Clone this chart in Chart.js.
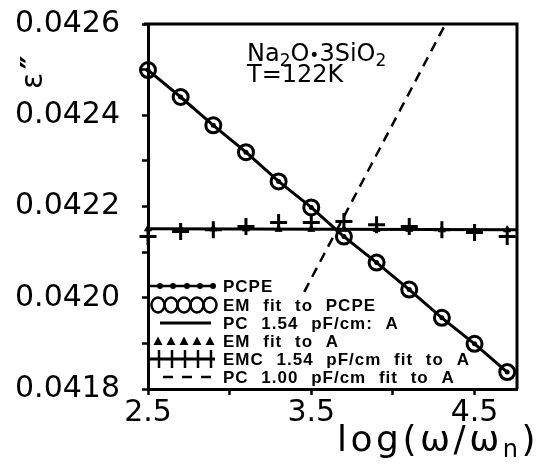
<!DOCTYPE html>
<html>
<head>
<meta charset="utf-8">
<script src="https://cdn.jsdelivr.net/npm/chart.js@4.4.0/dist/chart.umd.min.js"></script>
<style>
  html, body { margin: 0; padding: 0; background: #fff; }
  #wrap { width: 539px; height: 466px; position: relative; }
</style>
</head>
<body>
<div id="wrap"><canvas id="c" width="539" height="466"></canvas></div>
<script>
// log(omega/omega_n) sampling points
const logFreq = [2.5, 2.7, 2.9, 3.1, 3.3, 3.5, 3.7, 3.9, 4.1, 4.3, 4.5, 4.7];

// PCPE response (dots joined by a line)
const pcpe = [0.042499, 0.042440, 0.042378, 0.042319, 0.042255, 0.042198,
              0.042134, 0.042077, 0.042018, 0.041956, 0.041899, 0.041837];
// EM fit to PCPE (open circles)
const emFitPcpe = [0.042499, 0.042440, 0.042378, 0.042319, 0.042255, 0.042198,
                   0.042134, 0.042077, 0.042018, 0.041956, 0.041899, 0.041837];
// EM fit to A (triangles)
const emFitA = [0.042151, 0.042151, 0.042151, 0.042151, 0.042150, 0.042150,
                0.042150, 0.042150, 0.042150, 0.042149, 0.042149, 0.042149];
// EMC 1.54 pF/cm fit to A (plus markers)
const emcFitA = [0.042134, 0.042145, 0.042149, 0.042156, 0.042165, 0.042165,
                 0.042167, 0.042160, 0.042156, 0.042149, 0.042143, 0.042134];
// PC 1.54 pF/cm: A (solid line)
const pcA_x = [2.5, 4.76];
const pcA_y = [0.042151, 0.042149];
// PC 1.00 pF/cm fit to A (dashed line)
const pc100_x = [3.457, 4.322];
const pc100_y = [0.042013, 0.0426];

// axis ticks
const xTicks = [2.5, 3.0, 3.5, 4.0, 4.5];
const xTickLabels = ['2.5', '', '3.5', '', '4.5'];
const yTicks = [0.0418, 0.0419, 0.0420, 0.0421, 0.0422, 0.0423, 0.0424, 0.0425, 0.0426];
const yTickLabels = ['0.0418', '', '0.0420', '', '0.0422', '', '0.0424', '', '0.0426'];

const legendLabels = ['PCPE', 'EM fit to PCPE', 'PC 1.54 pF/cm: A',
                      'EM fit to A', 'EMC 1.54 pF/cm fit to A', 'PC 1.00 pF/cm fit to A'];

const pts = (xs, ys) => xs.map((x, i) => ({ x: x, y: ys[i] }));
const labelFor = (ticks, labels) => v => {
  const i = ticks.findIndex(t => Math.abs(t - v) < 1e-9);
  return i >= 0 ? labels[i] : '';
};

// draw a string char by char with extra letter / word spacing
function spacedText(ctx, str, x, y, letter, word) {
  let cx = x;
  for (const ch of str) {
    ctx.fillText(ch, cx, y);
    cx += ctx.measureText(ch).width + (ch === ' ' ? word : letter);
  }
  return cx;
}

// draw text runs with optional subscript offsets
function richText(ctx, runs, x, y, spacing) {
  let cx = x;
  for (const r of runs) {
    ctx.font = r.font;
    cx = spacedText(ctx, r.t, cx, y + (r.dy || 0), spacing, spacing);
  }
  return cx;
}

const decorations = {
  id: 'decorations',
  afterDraw(chart) {
    const ctx = chart.ctx;
    const a = chart.chartArea;
    ctx.save();
    ctx.fillStyle = '#000';
    ctx.strokeStyle = '#000';

    // top and right frame
    ctx.lineWidth = 3;
    ctx.beginPath();
    ctx.moveTo(a.left - 4, a.top);
    ctx.lineTo(a.right, a.top);
    ctx.lineTo(a.right, a.bottom);
    ctx.stroke();

    // composition and temperature
    ctx.textBaseline = 'alphabetic';
    ctx.textAlign = 'left';
    const big = '24px "DejaVu Sans"';
    const sub = '17px "DejaVu Sans"';
    richText(ctx, [
      { t: 'Na', font: big }, { t: '2', font: sub, dy: 5 },
      { t: 'O', font: big }, { t: '•', font: sub },
      { t: '3SiO', font: big }, { t: '2', font: sub, dy: 5 }
    ], 247, 61, 0);
    ctx.font = big;
    ctx.fillText('T=122K', 247, 82);

    // x axis title
    richText(ctx, [
      { t: 'log(ω/ω', font: '36px "DejaVu Sans"' },
      { t: 'n', font: '24px "DejaVu Sans"', dy: 6 },
      { t: ')', font: '36px "DejaVu Sans"' }
    ], 337, 451, 3.5);

    // y axis title
    ctx.save();
    ctx.translate(42, 89);
    ctx.rotate(-Math.PI / 2);
    ctx.font = '30px "DejaVu Sans"';
    ctx.fillText('ε', 0, 0);
    ctx.font = 'bold 30px "DejaVu Sans"';
    ctx.fillText('″', 20, 0);
    ctx.restore();

    // legend
    const rows = [286, 305, 323, 341, 359, 377];
    const sx = [158, 171, 184, 197, 210];
    // PCPE: line with dots
    ctx.lineWidth = 2.5;
    ctx.beginPath(); ctx.moveTo(150, rows[0]); ctx.lineTo(215, rows[0]); ctx.stroke();
    [160, 173, 187, 200, 213].forEach(x => { ctx.beginPath(); ctx.arc(x, rows[0], 3, 0, Math.PI * 2); ctx.fill(); });
    // EM fit to PCPE: chain of circles
    ctx.lineWidth = 2.5;
    sx.forEach(x => { ctx.beginPath(); ctx.ellipse(x, rows[1], 6.5, 7.5, 0, 0, Math.PI * 2); ctx.stroke(); });
    // PC 1.54: solid line
    ctx.lineWidth = 3;
    ctx.beginPath(); ctx.moveTo(160, rows[2]); ctx.lineTo(211, rows[2]); ctx.stroke();
    // EM fit to A: triangles
    sx.forEach(x => {
      ctx.beginPath();
      ctx.moveTo(x - 4.5, rows[3] + 4); ctx.lineTo(x + 4.5, rows[3] + 4); ctx.lineTo(x, rows[3] - 4.5);
      ctx.closePath(); ctx.fill();
    });
    // EMC: line with crossbars
    ctx.lineWidth = 3;
    ctx.beginPath(); ctx.moveTo(150, rows[4]); ctx.lineTo(215, rows[4]); ctx.stroke();
    ctx.lineWidth = 2.5;
    [159, 172, 185, 198, 211].forEach(x => { ctx.beginPath(); ctx.moveTo(x, rows[4] - 9); ctx.lineTo(x, rows[4] + 9); ctx.stroke(); });
    // PC 1.00: dashed
    ctx.lineWidth = 2.5;
    ctx.setLineDash([10, 9]);
    ctx.beginPath(); ctx.moveTo(163, rows[5]); ctx.lineTo(212, rows[5]); ctx.stroke();
    ctx.setLineDash([]);

    ctx.font = 'bold 17px "Liberation Sans"';
    ctx.textBaseline = 'middle';
    legendLabels.forEach((s, i) => spacedText(ctx, s, 223, rows[i] + 1, 1, 8));
    ctx.restore();
  }
};

new Chart(document.getElementById('c').getContext('2d'), {
  type: 'scatter',
  data: {
    datasets: [
      { label: legendLabels[1], data: pts(logFreq, emFitPcpe), pointStyle: 'circle', pointRadius: 7.5,
        borderColor: '#000', backgroundColor: 'rgba(0,0,0,0)', pointBorderWidth: 3, showLine: false, clip: false },
      { label: legendLabels[0], data: pts(logFreq, pcpe), showLine: true, borderColor: '#000', borderWidth: 3,
        pointRadius: 2.5, pointBackgroundColor: '#000', pointBorderWidth: 0, clip: false },
      { label: legendLabels[4], data: pts(logFreq, emcFitA), pointStyle: 'cross', pointRadius: 8.5,
        borderColor: '#000', pointBorderWidth: 3, showLine: false, clip: false },
      { label: legendLabels[3], data: pts(logFreq, emFitA), pointStyle: 'triangle', pointRadius: 4,
        borderColor: '#000', backgroundColor: '#000', pointBorderWidth: 1, showLine: false, clip: false },
      { label: legendLabels[2], data: pts(pcA_x, pcA_y), showLine: true, borderColor: '#000', borderWidth: 3,
        pointRadius: 0, clip: false },
      { label: legendLabels[5], data: pts(pc100_x, pc100_y), showLine: true, borderColor: '#000', borderWidth: 2.5,
        borderDash: [10, 7], pointRadius: 0 }
    ]
  },
  options: {
    responsive: false,
    animation: false,
    events: [],
    layout: { padding: { left: 0, right: 22, top: 24, bottom: 0 } },
    plugins: { legend: { display: false }, tooltip: { enabled: false } },
    scales: {
      x: {
        type: 'linear', min: 2.5, max: 4.76,
        afterBuildTicks: s => { s.ticks = xTicks.map(v => ({ value: v })); },
        afterFit: s => { s.height = 77; s.paddingLeft = 0; s.paddingRight = 0; },
        ticks: { callback: labelFor(xTicks, xTickLabels), autoSkip: false, maxRotation: 0,
                 font: { family: 'DejaVu Sans', size: 30 }, color: '#000', padding: 0 },
        grid: { drawOnChartArea: false, tickLength: 6, tickWidth: 2.5, tickColor: '#000' },
        border: { color: '#000', width: 3 }
      },
      y: {
        type: 'linear', min: 0.0418, max: 0.0426,
        afterBuildTicks: s => { s.ticks = yTicks.map(v => ({ value: v })); },
        afterFit: s => { s.width = 148; s.paddingTop = 0; s.paddingBottom = 0; },
        ticks: { callback: labelFor(yTicks, yTickLabels), autoSkip: false,
                 font: { family: 'DejaVu Sans', size: 30 }, color: '#000', padding: 22 },
        grid: { drawOnChartArea: false, tickLength: 6, tickWidth: 2.5, tickColor: '#000' },
        border: { color: '#000', width: 3 }
      }
    }
  },
  plugins: [decorations]
});
</script>
</body>
</html>
